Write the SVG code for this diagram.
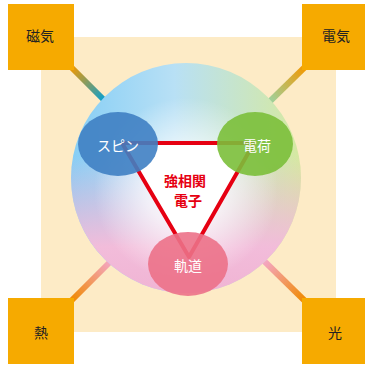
<svg xmlns="http://www.w3.org/2000/svg" width="365" height="365" viewBox="0 0 365 365">
<defs>
<style>
.box{fill:#F6AA00}
.bl{font-family:"Noto Sans CJK JP","Noto Sans",sans-serif;font-size:14px;fill:#222;text-anchor:middle}
.nl{font-family:"Noto Sans CJK JP","Noto Sans",sans-serif;font-size:14px;fill:#fff;text-anchor:middle}
.cl{font-family:"Noto Sans CJK JP","Noto Sans",sans-serif;font-size:14px;font-weight:bold;fill:#E60012;text-anchor:middle}
.bar{stroke-width:6;fill:none}
</style>
<linearGradient id="gTL" gradientUnits="userSpaceOnUse" x1="70" y1="68" x2="106" y2="101"><stop offset="0" stop-color="#F39800"/><stop offset="1" stop-color="#00A0D8"/></linearGradient>
<linearGradient id="gTR" gradientUnits="userSpaceOnUse" x1="305" y1="67" x2="268" y2="101"><stop offset="0" stop-color="#F39800"/><stop offset="1" stop-color="#9CD3A2"/></linearGradient>
<linearGradient id="gBL" gradientUnits="userSpaceOnUse" x1="70" y1="299" x2="110" y2="262"><stop offset="0" stop-color="#F08A00"/><stop offset="1" stop-color="#F4A6C2"/></linearGradient>
<linearGradient id="gBR" gradientUnits="userSpaceOnUse" x1="305" y1="300" x2="265" y2="262"><stop offset="0" stop-color="#F08A00"/><stop offset="1" stop-color="#F4A6C2"/></linearGradient>
<linearGradient id="cH" x1="0" y1="0" x2="1" y2="0"><stop offset="0" stop-color="#86CEF5"/><stop offset="0.45" stop-color="#B8E0F5"/><stop offset="1" stop-color="#D6E9A0"/></linearGradient>
<linearGradient id="cV" x1="0" y1="0" x2="0" y2="1"><stop offset="0.4" stop-color="#F2B8D8" stop-opacity="0"/><stop offset="0.8" stop-color="#F2BCDA" stop-opacity="1"/><stop offset="1" stop-color="#F0B4D4" stop-opacity="1"/></linearGradient>
<radialGradient id="cR" cx="0.5" cy="0.55" r="0.5"><stop offset="0" stop-color="#fff" stop-opacity="1"/><stop offset="0.35" stop-color="#fff" stop-opacity="0.7"/><stop offset="0.8" stop-color="#fff" stop-opacity="0"/></radialGradient>
</defs>
<rect x="41" y="37" width="295" height="295" fill="#FDEBC6"/>
<g id="connectors">
<line class="bar" x1="70" y1="66" x2="115" y2="111" stroke="url(#gTL)"/>
<line class="bar" x1="306" y1="66" x2="260" y2="111" stroke="url(#gTR)"/>
<line class="bar" x1="70" y1="302" x2="115" y2="257" stroke="url(#gBL)"/>
<line class="bar" x1="306" y1="302" x2="260" y2="257" stroke="url(#gBR)"/>
</g>
<g id="sphere">
<circle cx="186" cy="178" r="115" fill="url(#cH)"/>
<circle cx="186" cy="178" r="115" fill="url(#cV)"/>
<circle cx="186" cy="178" r="115" fill="url(#cR)"/>
</g>
<g id="core">
<polygon points="122,143 254,143 189,257" fill="#fff" stroke="#E60012" stroke-width="4" stroke-linejoin="round"/>
<text class="cl" x="185" y="186">強相関</text>
<text class="cl" x="188" y="206">電子</text>
</g>
<g id="spin"><ellipse cx="118" cy="144" rx="40" ry="32" fill="#3F7FC3" fill-opacity="0.9"/><text class="nl" x="118" y="151">スピン</text></g>
<g id="charge"><ellipse cx="255" cy="144" rx="38" ry="32" fill="#7BBF3A" fill-opacity="0.9"/><text class="nl" x="257" y="151">電荷</text></g>
<g id="orbit"><ellipse cx="188" cy="264" rx="40" ry="32" fill="#EC7188" fill-opacity="0.9"/><text class="nl" x="188" y="271">軌道</text></g>
<g id="magnetism"><rect class="box" x="8" y="4" width="66" height="66"/><text class="bl" x="40" y="41">磁気</text></g>
<g id="electricity"><rect class="box" x="302" y="4" width="66" height="66"/><text class="bl" x="336" y="41">電気</text></g>
<g id="heat"><rect class="box" x="8" y="298" width="66" height="66"/><text class="bl" x="41" y="338">熱</text></g>
<g id="light"><rect class="box" x="302" y="298" width="66" height="66"/><text class="bl" x="335" y="338">光</text></g>
</svg>
